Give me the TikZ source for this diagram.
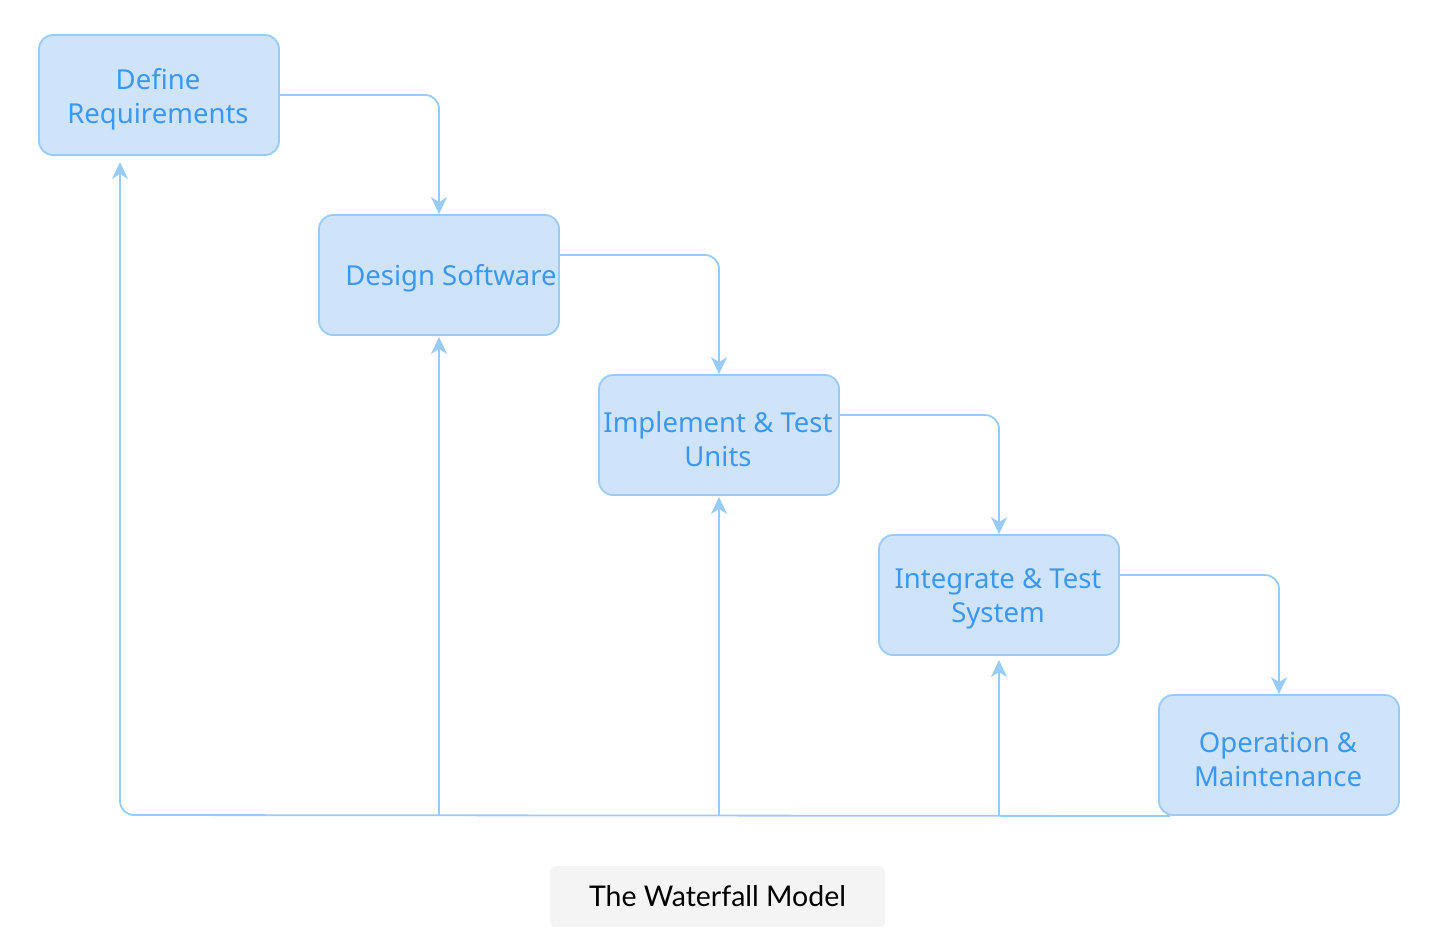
\documentclass[tikz,border=0pt]{standalone}
\usepackage{fontspec}
\setmainfont{Noto Sans}
\newfontfamily\capfont{Lato}
\usetikzlibrary{arrows.meta}
\definecolor{boxfill}{HTML}{CFE4FA}
\definecolor{boxline}{HTML}{99CBF7}
\definecolor{boxtext}{HTML}{3A98F0}
\definecolor{capfill}{HTML}{F4F4F4}
\tikzset{
  stagebox/.style={draw=boxline, fill=boxfill, line width=1.8pt, rounded corners=14pt,
    minimum width=240pt, minimum height=120pt, inner sep=0pt},
  stagetext/.style={text=boxtext, font=\fontsize{27.5}{34}\selectfont, align=center, inner sep=0pt},
  flow/.style={draw=boxline, line width=1.8pt, rounded corners=14pt,
    -{Stealth[length=17pt,width=16pt,inset=5pt]}},
}
\begin{document}
\begin{tikzpicture}[x=1pt,y=-1pt]
\useasboundingbox (0,0) rectangle (1450,950);
% boxes
\node[stagebox] (req) at (159,95) {};
\node[stagebox] (des) at (439,275) {};
\node[stagebox] (imp) at (719,435) {};
\node[stagebox] (int) at (999,595) {};
\node[stagebox] (ops) at (1279,755) {};
% texts
\node[stagetext] (reqt) at (158,99) {Define\\Requirements};
\node[stagetext] (dest) at (451,278) {Design Software};
\node[stagetext] (impt) at (718,439) {Implement \& Test\\Units};
\node[stagetext] (intt) at (998,599) {Integrate \& Test\\System};
\node[stagetext] (opst) at (1278,759) {Operation \&\\Maintenance};
% forward flow
\draw[flow] (req.east) -| (des.north);
\draw[flow] (des.east |- 0,255) -| (imp.north);
\draw[flow] (imp.east |- 0,415) -| (int.north);
\draw[flow] (int.east |- 0,575) -| (ops.north);
% feedback
\coordinate (fbstart) at (1170,816);
\coordinate (fbcorner) at (120,815);
\coordinate (reqin) at (120,162);
\coordinate (b1) at (439,815);
\coordinate (b2) at (719,815);
\coordinate (b3) at (999,815);
\coordinate (desin) at (439,337);
\coordinate (impin) at (719,497);
\coordinate (intin) at (999,660);
\draw[flow] (fbstart) -- (fbcorner) -- (reqin);
\draw[flow, rounded corners=0pt] (b1) -- (desin);
\draw[flow, rounded corners=0pt] (b2) -- (impin);
\draw[flow, rounded corners=0pt] (b3) -- (intin);
% caption
\node[fill=capfill, rounded corners=6pt, minimum width=335pt, minimum height=61pt, inner sep=0pt,
  font=\capfont\fontsize{28.5}{32}\selectfont, text=black] (cap) at (717.5,896.5) {The Waterfall Model};
\end{tikzpicture}
\end{document}
